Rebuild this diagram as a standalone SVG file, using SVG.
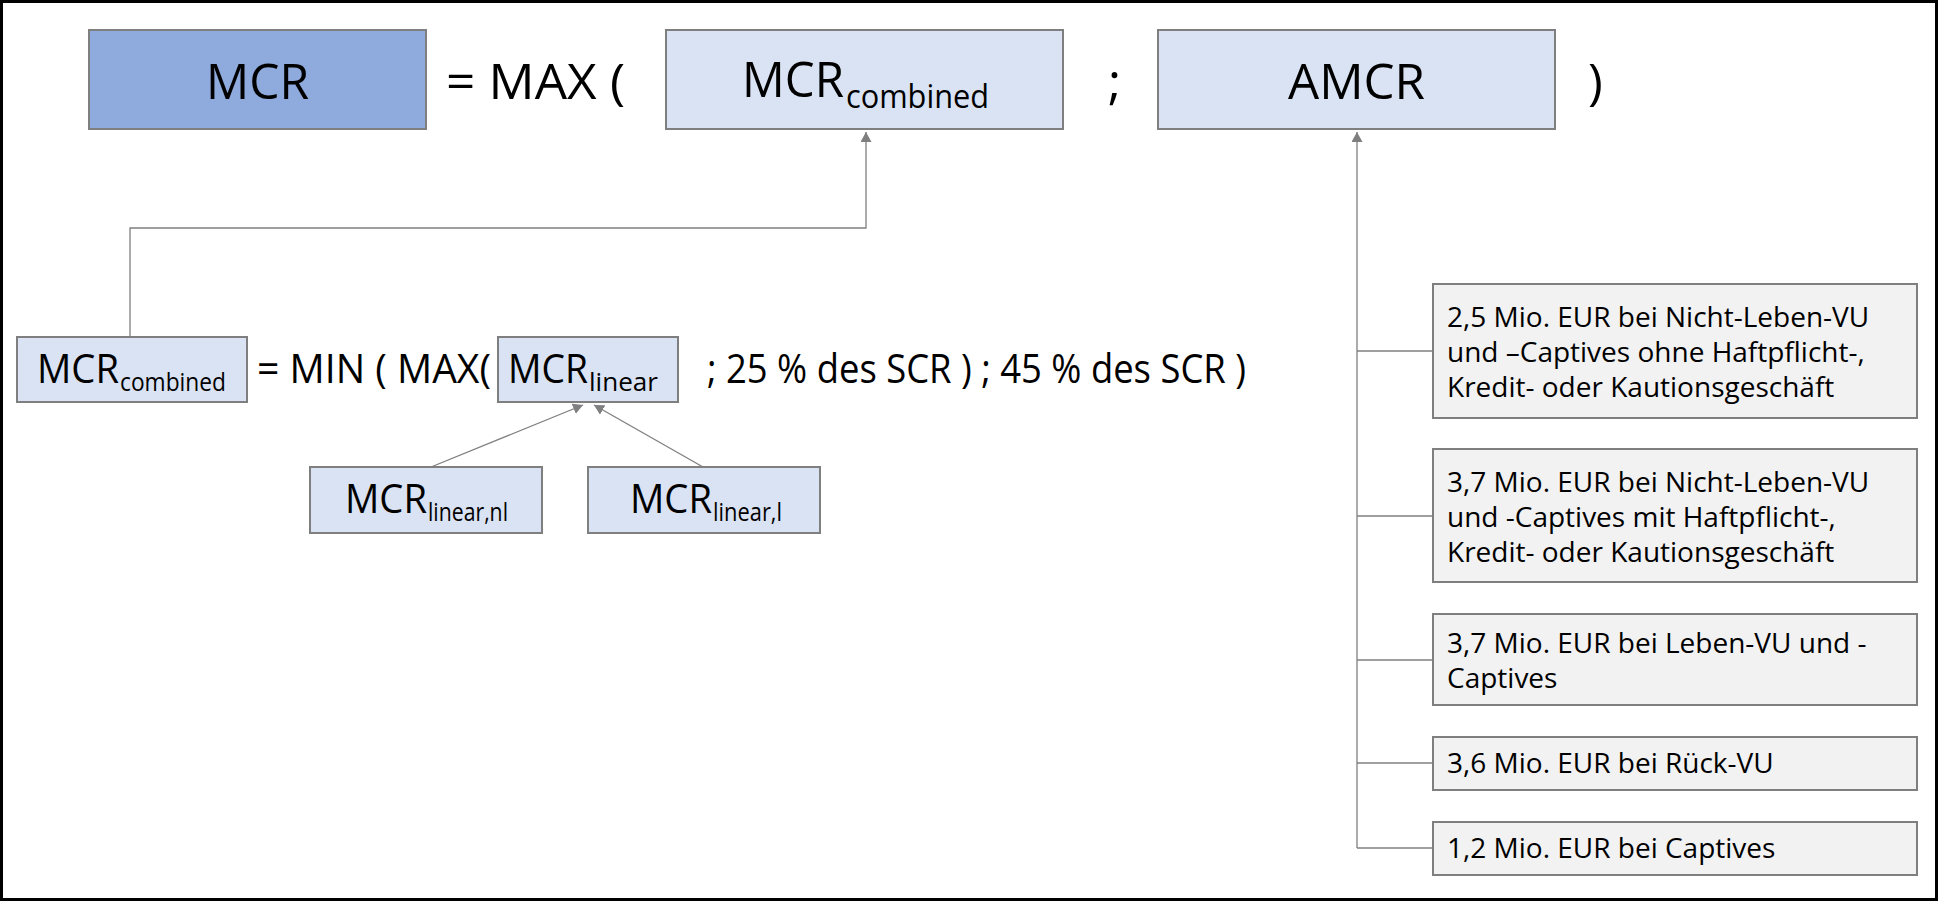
<svg xmlns="http://www.w3.org/2000/svg" width="1938" height="901" viewBox="0 0 1938 901">
<style>
text{font-family:"Open Sans","Noto Sans","DejaVu Sans",sans-serif;fill:#000;}
.dark{fill:#8FAADC;stroke:#7F7F7F;stroke-width:2;}
.light{fill:#DAE3F3;stroke:#7F7F7F;stroke-width:2;}
.grey{fill:#F2F2F2;stroke:#7F7F7F;stroke-width:2;}
.big{font-size:50px;}
.mid{font-size:40px;}
.sub1{font-size:33px;}
.sub2{font-size:26px;}
.body{font-size:28px;}
.conn{fill:none;stroke:#7F7F7F;stroke-width:1.3;}
</style>
<defs>
<marker id="arr" viewBox="0 0 10 11" refX="10" refY="5.5" markerWidth="10" markerHeight="11" markerUnits="userSpaceOnUse" orient="auto">
<path d="M0,0 L10,5.5 L0,11 z" fill="#7F7F7F"/>
</marker>
</defs>
<rect x="0" y="0" width="1938" height="901" fill="#FFFFFF"/>
<rect x="1.5" y="1.5" width="1935" height="898" fill="none" stroke="#000" stroke-width="3"/>

<g id="connectors">
<path class="conn" d="M130,336 V228 H866 V132" marker-end="url(#arr)"/>
<path class="conn" d="M1357,848 V132" marker-end="url(#arr)"/>
<path class="conn" d="M1357,351 H1432"/>
<path class="conn" d="M1357,516 H1432"/>
<path class="conn" d="M1357,660 H1432"/>
<path class="conn" d="M1357,763 H1432"/>
<path class="conn" d="M1357,848 H1432"/>
<path class="conn" d="M431,467 L583,405" marker-end="url(#arr)"/>
<path class="conn" d="M703,467 L594,405" marker-end="url(#arr)"/>
</g>

<g id="node-mcr">
<rect class="dark" x="89" y="30" width="337" height="99"/>
<text class="big" x="206" y="99" textLength="103" lengthAdjust="spacingAndGlyphs">MCR</text>
</g>
<g id="text-max">
<text class="big" x="446" y="99" textLength="179" lengthAdjust="spacingAndGlyphs">= MAX (</text>
</g>
<g id="node-mcr-combined-top">
<rect class="light" x="666" y="30" width="397" height="99"/>
<text class="big" x="742" y="97" textLength="102" lengthAdjust="spacingAndGlyphs">MCR</text>
<text class="sub1" x="846" y="108" textLength="143" lengthAdjust="spacingAndGlyphs">combined</text>
</g>
<g id="text-semicolon">
<text class="big" x="1108" y="99">;</text>
</g>
<g id="node-amcr">
<rect class="light" x="1158" y="30" width="397" height="99"/>
<text class="big" x="1288" y="99" textLength="137" lengthAdjust="spacingAndGlyphs">AMCR</text>
</g>
<g id="text-close">
<text class="big" x="1588" y="99">)</text>
</g>

<g id="node-mcr-combined">
<rect class="light" x="17" y="337" width="230" height="65"/>
<text class="mid" x="37" y="383" textLength="82" lengthAdjust="spacingAndGlyphs">MCR</text>
<text class="sub2" x="120" y="391" textLength="106" lengthAdjust="spacingAndGlyphs">combined</text>
</g>
<g id="text-min">
<text class="mid" x="257" y="383" textLength="234" lengthAdjust="spacingAndGlyphs">= MIN ( MAX(</text>
</g>
<g id="node-mcr-linear">
<rect class="light" x="498" y="337" width="180" height="65"/>
<text class="mid" x="508" y="383" textLength="80" lengthAdjust="spacingAndGlyphs">MCR</text>
<text class="sub2" x="589" y="391" textLength="69" lengthAdjust="spacingAndGlyphs">linear</text>
</g>
<g id="text-scr">
<text class="mid" x="707" y="383" textLength="539" lengthAdjust="spacingAndGlyphs">; 25 % des SCR ) ; 45 % des SCR )</text>
</g>
<g id="node-mcr-linear-nl">
<rect class="light" x="310" y="467" width="232" height="66"/>
<text class="mid" x="345" y="513" textLength="82" lengthAdjust="spacingAndGlyphs">MCR</text>
<text class="sub2" x="428" y="521" textLength="80" lengthAdjust="spacingAndGlyphs">linear,nl</text>
</g>
<g id="node-mcr-linear-l">
<rect class="light" x="588" y="467" width="232" height="66"/>
<text class="mid" x="630" y="513" textLength="82" lengthAdjust="spacingAndGlyphs">MCR</text>
<text class="sub2" x="713" y="521" textLength="69" lengthAdjust="spacingAndGlyphs">linear,l</text>
</g>

<g id="node-amcr-1">
<rect class="grey" x="1433" y="284" width="484" height="134"/>
<text class="body" x="1447" y="327">2,5 Mio. EUR bei Nicht-Leben-VU</text>
<text class="body" x="1447" y="362">und –Captives ohne Haftpflicht-,</text>
<text class="body" x="1447" y="397">Kredit- oder Kautionsgeschäft</text>
</g>
<g id="node-amcr-2">
<rect class="grey" x="1433" y="449" width="484" height="133"/>
<text class="body" x="1447" y="492">3,7 Mio. EUR bei Nicht-Leben-VU</text>
<text class="body" x="1447" y="527">und -Captives mit Haftpflicht-,</text>
<text class="body" x="1447" y="562">Kredit- oder Kautionsgeschäft</text>
</g>
<g id="node-amcr-3">
<rect class="grey" x="1433" y="614" width="484" height="91"/>
<text class="body" x="1447" y="653">3,7 Mio. EUR bei Leben-VU und -</text>
<text class="body" x="1447" y="688">Captives</text>
</g>
<g id="node-amcr-4">
<rect class="grey" x="1433" y="737" width="484" height="53"/>
<text class="body" x="1447" y="773">3,6 Mio. EUR bei Rück-VU</text>
</g>
<g id="node-amcr-5">
<rect class="grey" x="1433" y="822" width="484" height="53"/>
<text class="body" x="1447" y="858">1,2 Mio. EUR bei Captives</text>
</g>
</svg>
